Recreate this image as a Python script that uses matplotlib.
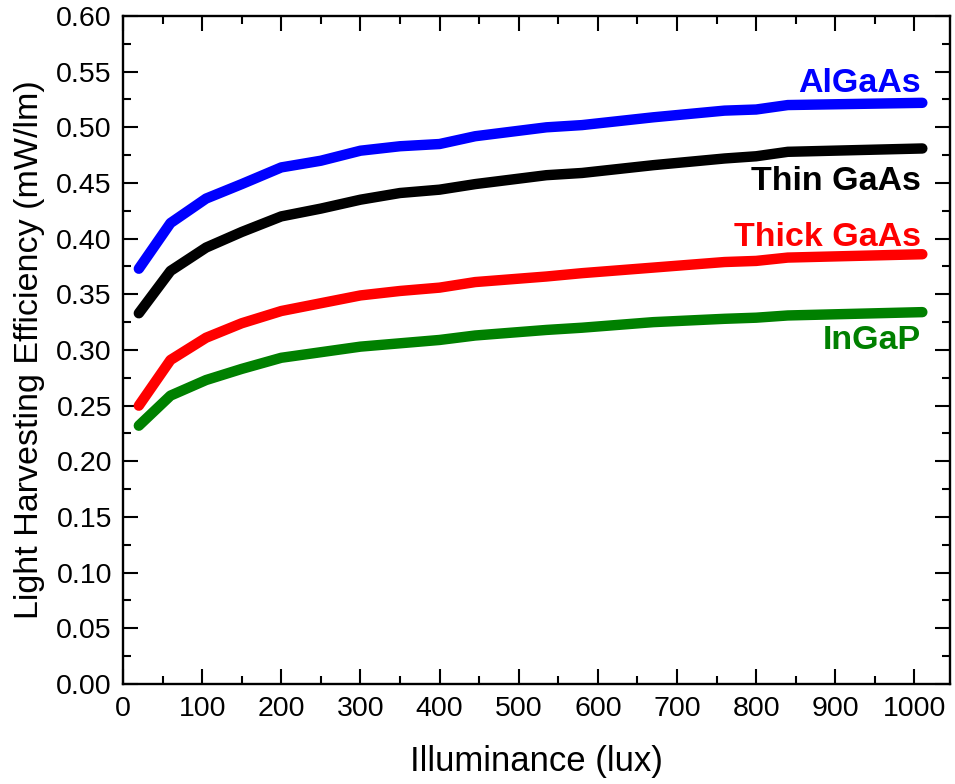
import matplotlib
matplotlib.use("Agg")
import matplotlib.pyplot as plt
from matplotlib.ticker import MultipleLocator, FormatStrFormatter

plt.rcParams['font.family'] = ['Liberation Sans', 'DejaVu Sans']

# Illuminance (lux)
lux = [20, 60, 105, 150, 200, 250, 300, 350, 400, 445, 535, 580, 670, 760, 800, 840, 1010]

# Light harvesting efficiency (mW/lm)
algaas = [0.373, 0.414, 0.436, 0.449, 0.464, 0.470, 0.479, 0.483, 0.485, 0.492,
          0.500, 0.502, 0.509, 0.515, 0.516, 0.520, 0.522]
thin_gaas = [0.333, 0.371, 0.392, 0.406, 0.420, 0.427, 0.435, 0.441, 0.444, 0.449,
             0.457, 0.459, 0.466, 0.472, 0.474, 0.478, 0.481]
thick_gaas = [0.250, 0.291, 0.311, 0.324, 0.335, 0.342, 0.349, 0.353, 0.356, 0.361,
              0.366, 0.369, 0.374, 0.379, 0.380, 0.383, 0.386]
ingap = [0.232, 0.259, 0.273, 0.283, 0.293, 0.298, 0.303, 0.306, 0.309, 0.313,
         0.318, 0.320, 0.325, 0.328, 0.329, 0.331, 0.334]

series = [
    ("AlGaAs", algaas, "#0000ff", 0.532),
    ("Thin GaAs", thin_gaas, "#000000", 0.444),
    ("Thick GaAs", thick_gaas, "#ff0000", 0.393),
    ("InGaP", ingap, "#008000", 0.3005),
]

fig = plt.figure(figsize=(9.55, 7.84), dpi=100)
ax = fig.add_axes([0.1288, 0.1276, 0.866, 0.852])

for name, vals, color, label_y in series:
    ax.plot(lux, vals, color=color, lw=7.5, solid_capstyle='round',
            solid_joinstyle='round')
    ax.text(1008, label_y, name, color=color, fontsize=24.5, fontweight='bold',
            ha='right', va='baseline')

ax.set_xlim(0, 1045)
ax.set_ylim(0, 0.60)
ax.xaxis.set_major_locator(MultipleLocator(100))
ax.xaxis.set_minor_locator(MultipleLocator(50))
ax.yaxis.set_major_locator(MultipleLocator(0.05))
ax.yaxis.set_minor_locator(MultipleLocator(0.025))
ax.yaxis.set_major_formatter(FormatStrFormatter('%.2f'))

ax.tick_params(which='both', direction='in', top=True, right=True,
               width=1.5, labelsize=20.5)
ax.tick_params(which='major', length=10.5)
ax.tick_params(which='minor', length=5.5)
ax.tick_params(axis='x', pad=9)
ax.tick_params(axis='y', pad=8)
for sp in ax.spines.values():
    sp.set_linewidth(1.7)

ax.set_xlabel("Illuminance (lux)", fontsize=25, labelpad=16)
ax.set_ylabel("Light Harvesting Efficiency (mW/lm)", fontsize=24.5, labelpad=8)

fig.savefig("out.png", dpi=100)
